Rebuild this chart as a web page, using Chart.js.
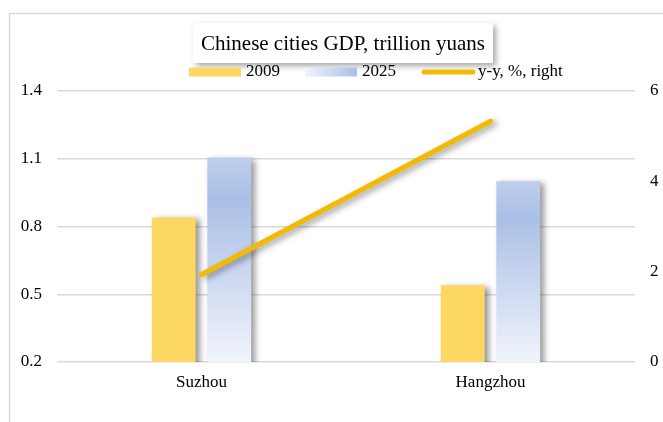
<!DOCTYPE html>
<html>
<head>
<meta charset="utf-8">
<script src="https://cdn.jsdelivr.net/npm/chart.js@4"></script>
<style>
html,body{margin:0;padding:0;background:#fff;}
#wrap{position:absolute;left:0;top:0;width:663px;height:422px;}
</style>
</head>
<body>
<div id="wrap"><canvas id="c" width="663" height="422"></canvas></div>
<script>
const categories = ['Suzhou', 'Hangzhou'];
const gdp2009 = [0.84, 0.54];
const gdp2025 = [1.105, 1.0];
const yoy = [1.93, 5.33];
const leftTicks = [0.2, 0.5, 0.8, 1.1, 1.4];
const rightTicks = [0, 2, 4, 6];
const titleText = 'Chinese cities GDP, trillion yuans';
const seriesNames = ['2009', '2025', 'y-y, %, right'];

const FONT = '"Liberation Serif", "Times New Roman", serif';

function blueGradient(ctx) {
  const chart = ctx.chart;
  if (!chart.chartArea) return '#A9BEE6';
  const ys = chart.scales.y;
  const top = ys.getPixelForValue(ctx.raw);
  const bottom = ys.getPixelForValue(ys.min);
  const g = chart.ctx.createLinearGradient(0, top, 0, bottom);
  g.addColorStop(0, '#BFCFEC');
  g.addColorStop(0.2, '#AABFE6');
  g.addColorStop(1, '#F1F4FB');
  return g;
}

const shadowPlugin = {
  id: 'shadow',
  beforeDatasetDraw(chart, args) {
    const c = chart.ctx;
    c.save();
    c.shadowColor = 'rgba(0,0,0,0.4)';
    c.shadowBlur = 6;
    c.shadowOffsetX = 4;
    c.shadowOffsetY = 2;
  },
  afterDatasetDraw(chart) {
    chart.ctx.restore();
  }
};

const decorPlugin = {
  id: 'decor',
  beforeDraw(chart) {
    const c = chart.ctx;
    c.save();
    c.strokeStyle = '#D9D9D9';
    c.lineWidth = 1.5;
    c.beginPath();
    c.moveTo(9.5, chart.height);
    c.lineTo(9.5, 13.5);
    c.lineTo(chart.width, 13.5);
    c.stroke();
    c.restore();
  },
  afterDraw(chart) {
    const c = chart.ctx;
    // title box
    c.save();
    c.font = '21px ' + FONT;
    const tw = c.measureText(titleText).width;
    const cx = 343, cy = 43;
    const bw = tw + 16, bh = 40;
    c.shadowColor = 'rgba(0,0,0,0.35)';
    c.shadowBlur = 6;
    c.shadowOffsetX = 3;
    c.shadowOffsetY = 3;
    c.fillStyle = '#fff';
    c.fillRect(cx - bw / 2, cy - bh / 2, bw, bh);
    c.restore();
    c.save();
    c.font = '21px ' + FONT;
    c.fillStyle = '#000';
    c.textAlign = 'center';
    c.textBaseline = 'middle';
    c.fillText(titleText, cx, cy + 1);
    c.restore();

    // legend
    c.save();
    c.font = '17px ' + FONT;
    c.textBaseline = 'middle';
    c.fillStyle = '#000';
    let x = 189;
    const ly = 72;
    for (let i = 0; i < seriesNames.length; i++) {
      if (i === 0) {
        c.fillStyle = '#FCD762';
        c.fillRect(x, ly - 4.5, 52, 9);
      } else if (i === 1) {
        const g = c.createLinearGradient(x, 0, x + 52, 0);
        g.addColorStop(0, '#F1F4FB');
        g.addColorStop(1, '#AABFE6');
        c.fillStyle = g;
        c.fillRect(x, ly - 4.5, 52, 9);
      } else {
        c.strokeStyle = '#F2BA02';
        c.lineWidth = 5;
        c.lineCap = 'round';
        c.beginPath();
        c.moveTo(x + 3, ly);
        c.lineTo(x + 52, ly);
        c.stroke();
      }
      c.fillStyle = '#000';
      c.fillText(seriesNames[i], x + 57, ly);
      x += 57 + c.measureText(seriesNames[i]).width + 25;
    }
    c.restore();
  }
};

new Chart(document.getElementById('c'), {
  data: {
    labels: categories,
    datasets: [
      {
        type: 'bar',
        label: seriesNames[0],
        data: gdp2009,
        yAxisID: 'y',
        backgroundColor: '#FCD762',
        categoryPercentage: 0.384,
        barPercentage: 0.79,
        order: 1
      },
      {
        type: 'bar',
        label: seriesNames[1],
        data: gdp2025,
        yAxisID: 'y',
        backgroundColor: blueGradient,
        categoryPercentage: 0.384,
        barPercentage: 0.79,
        order: 1
      },
      {
        type: 'line',
        label: seriesNames[2],
        data: yoy,
        yAxisID: 'y1',
        borderColor: '#F2BA02',
        borderWidth: 5,
        borderCapStyle: 'round',
        pointRadius: 0,
        fill: false,
        order: 0
      }
    ]
  },
  options: {
    responsive: false,
    animation: false,
    devicePixelRatio: 1,
    layout: { padding: { top: 91, left: 0, right: 0, bottom: 0 } },
    plugins: {
      legend: { display: false },
      title: { display: false },
      tooltip: { enabled: false }
    },
    scales: {
      x: {
        grid: { display: false, drawTicks: false },
        border: { display: false },
        ticks: { font: { family: FONT, size: 17 }, color: '#000', padding: 10 },
        afterFit(s) { s.height = 60; }
      },
      y: {
        position: 'left',
        min: 0.2,
        max: 1.4,
        afterBuildTicks(s) { s.ticks = leftTicks.map(v => ({ value: v })); },
        grid: { color: '#D9D9D9', lineWidth: 1.5, drawTicks: false },
        border: { display: false },
        ticks: {
          font: { family: FONT, size: 17 }, color: '#000', padding: 15,
          callback: v => v.toFixed(1)
        },
        afterFit(s) { s.width = 57; }
      },
      y1: {
        position: 'right',
        min: 0,
        max: 6,
        afterBuildTicks(s) { s.ticks = rightTicks.map(v => ({ value: v })); },
        grid: { display: false, drawTicks: false },
        border: { display: false },
        ticks: { font: { family: FONT, size: 17 }, color: '#000', padding: 15 },
        afterFit(s) { s.width = 28; }
      }
    }
  },
  plugins: [decorPlugin, shadowPlugin]
});
</script>
</body>
</html>
